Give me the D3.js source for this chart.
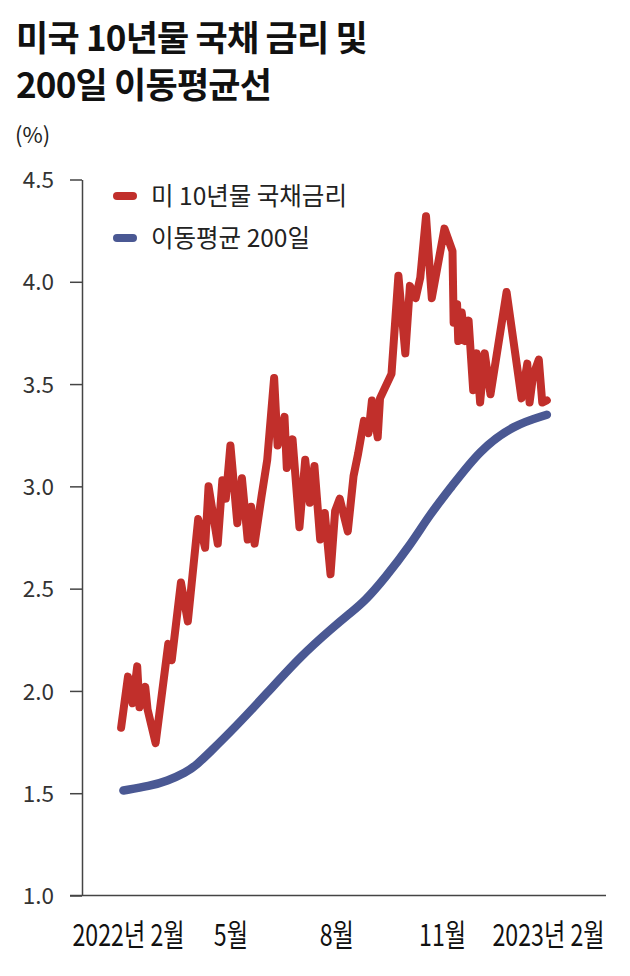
<!DOCTYPE html>
<html><head><meta charset="utf-8">
<script src="https://cdn.jsdelivr.net/npm/d3@7"></script>
<style>
body{margin:0;background:#fff;}
svg{display:block;background:#fff;}
</style>
</head><body>
<svg id="chart" width="630" height="976"></svg>
<script>
// ---------- data ----------
const titleLines = ["미국 10년물 국채 금리 및", "200일 이동평균선"];
const unitLabel = "(%)";
const seriesNames = ["미 10년물 국채금리", "이동평균 200일"];
const yTicks = [1.0, 1.5, 2.0, 2.5, 3.0, 3.5, 4.0, 4.5];
const xTickDates = ["2022-02-01", "2022-05-01", "2022-08-01", "2022-11-01", "2023-02-01"];
const xTickLabels = ["2022년 2월", "5월", "8월", "11월", "2023년 2월"];

const yieldDates = [
  "2022-01-26","2022-02-01","2022-02-05","2022-02-09","2022-02-11","2022-02-16","2022-02-18","2022-02-25",
  "2022-03-08","2022-03-11","2022-03-19","2022-03-25","2022-04-03","2022-04-09","2022-04-12","2022-04-20",
  "2022-04-24","2022-04-27","2022-05-01","2022-05-07","2022-05-11","2022-05-16","2022-05-19","2022-05-22",
  "2022-05-28","2022-06-02","2022-06-08","2022-06-11","2022-06-17","2022-06-19","2022-06-24","2022-06-30",
  "2022-07-05","2022-07-09","2022-07-13","2022-07-18","2022-07-22","2022-07-27","2022-07-31","2022-08-04",
  "2022-08-11","2022-08-16","2022-08-20","2022-08-25","2022-08-29","2022-09-01","2022-09-06","2022-09-08",
  "2022-09-18","2022-09-24","2022-09-30","2022-10-04","2022-10-09","2022-10-13","2022-10-18","2022-10-23",
  "2022-11-03","2022-11-10","2022-11-11","2022-11-14","2022-11-15","2022-11-18","2022-11-21","2022-11-24",
  "2022-11-28","2022-12-01","2022-12-04","2022-12-08","2022-12-13","2022-12-27","2023-01-09","2023-01-14",
  "2023-01-16","2023-01-19","2023-01-24","2023-01-27","2023-01-31"
];
const yieldValues = [
  1.82, 2.07, 1.94, 2.12, 1.92, 2.02, 1.91, 1.745,
  2.23, 2.15, 2.53, 2.34, 2.84, 2.70, 3.00, 2.72,
  3.03, 2.94, 3.20, 2.82, 3.04, 2.74, 2.90, 2.72,
  2.95, 3.13, 3.53, 3.20, 3.34, 3.09, 3.23, 2.80,
  3.13, 2.92, 3.10, 2.74, 2.87, 2.57, 2.88, 2.94,
  2.78, 3.05, 3.16, 3.32, 3.26, 3.42, 3.24, 3.43,
  3.55, 4.03, 3.65, 3.98, 3.92, 4.02, 4.32, 3.92,
  4.26, 4.15, 3.80, 3.89, 3.71, 3.85, 3.71, 3.81,
  3.47, 3.65, 3.41, 3.65, 3.45, 3.95, 3.43, 3.60,
  3.41, 3.54, 3.62, 3.41, 3.42
];

const maDates = [
  "2022-01-28","2022-02-20","2022-03-07","2022-03-23","2022-04-02","2022-04-13","2022-05-03","2022-06-02",
  "2022-07-01","2022-07-29","2022-08-13","2022-08-26","2022-09-12","2022-10-04","2022-10-21","2022-11-08",
  "2022-12-04","2023-01-02","2023-01-31"
];
const maValues = [
  1.513, 1.535, 1.56, 1.60, 1.64, 1.70, 1.81, 1.99,
  2.17, 2.31, 2.38, 2.44, 2.55, 2.71, 2.86, 2.99,
  3.18, 3.30, 3.35
];

// ---------- setup ----------
const parse = d3.timeParse("%Y-%m-%d");
const redColor = "#c12f2b";
const blueColor = "#4a5893";
const axisColor = "#444";
const textColor = "#222";
const korFont = "'Noto Sans CJK KR', 'Noto Sans', sans-serif";

const svg = d3.select("#chart");
svg.append("rect").attr("width", 630).attr("height", 976).attr("fill", "#fff");

const x = d3.scaleTime()
  .domain([parse("2022-02-01"), parse("2023-02-01")])
  .range([128, 548]);
const y = d3.scaleLinear().domain([1, 4.5]).range([895.5, 179.5]);

// title
svg.append("g").selectAll("text").data(titleLines).join("text")
  .attr("x", 16)
  .attr("y", (d, i) => 51 + i * 47)
  .attr("font-family", korFont)
  .attr("font-weight", 700)
  .attr("font-size", 35)
  .attr("letter-spacing", -0.8)
  .attr("fill", "#111")
  .text(d => d);

svg.append("text")
  .attr("x", 15).attr("y", 143)
  .attr("font-family", korFont)
  .attr("font-size", 22)
  .attr("fill", textColor)
  .text(unitLabel);

// y axis
const yAxis = svg.append("g")
  .attr("transform", "translate(82,0)")
  .call(d3.axisLeft(y).tickValues(yTicks).tickFormat(d3.format(".1f")).tickSize(12).tickSizeOuter(0).tickPadding(16));
yAxis.select(".domain").attr("stroke", axisColor).attr("stroke-width", 1.5);
yAxis.selectAll(".tick line").attr("stroke", axisColor).attr("stroke-width", 1.5);
yAxis.selectAll(".tick text")
  .attr("font-family", korFont)
  .attr("font-size", 22.5)
  .attr("fill", "#333")
  .attr("dy", "0.36em");

// x axis baseline
svg.append("line")
  .attr("x1", 70).attr("x2", 606)
  .attr("y1", y(1)).attr("y2", y(1))
  .attr("stroke", axisColor).attr("stroke-width", 1.5);

const xAxis = svg.append("g")
  .attr("transform", `translate(0,${y(1)})`)
  .call(d3.axisBottom(x).tickValues(xTickDates.map(parse)).tickFormat((d, i) => xTickLabels[i]).tickSize(0).tickPadding(0));
xAxis.select(".domain").remove();
xAxis.selectAll(".tick text")
  .attr("y", 0).attr("dy", 0)
  .attr("transform", "translate(0,50) scale(0.76,1)")
  .attr("font-family", korFont)
  .attr("font-size", 30.5)
  .attr("fill", "#111");

// lines
const yieldData = yieldDates.map((d, i) => ({date: parse(d), value: yieldValues[i]}));
const maData = maDates.map((d, i) => ({date: parse(d), value: maValues[i]}));

svg.append("path")
  .datum(maData)
  .attr("fill", "none")
  .attr("stroke", blueColor)
  .attr("stroke-width", 8.5)
  .attr("stroke-linecap", "round")
  .attr("d", d3.line().x(d => x(d.date)).y(d => y(d.value)).curve(d3.curveBasis));

svg.append("path")
  .datum(yieldData)
  .attr("fill", "none")
  .attr("stroke", redColor)
  .attr("stroke-width", 8)
  .attr("stroke-linejoin", "round")
  .attr("stroke-linecap", "round")
  .attr("d", d3.line().x(d => x(d.date)).y(d => y(d.value)));

// legend
const legend = svg.append("g");
const legendItems = [
  {name: seriesNames[0], color: redColor, y: 196},
  {name: seriesNames[1], color: blueColor, y: 238}
];
legend.selectAll("line").data(legendItems).join("line")
  .attr("x1", 117).attr("x2", 133)
  .attr("y1", d => d.y).attr("y2", d => d.y)
  .attr("stroke", d => d.color)
  .attr("stroke-width", 8)
  .attr("stroke-linecap", "round");
legend.selectAll("text").data(legendItems).join("text")
  .attr("x", 151)
  .attr("y", d => d.y + 8.5)
  .attr("font-family", korFont)
  .attr("font-size", 24.5)
  .attr("fill", "#222")
  .text(d => d.name);
</script>
</body></html>
